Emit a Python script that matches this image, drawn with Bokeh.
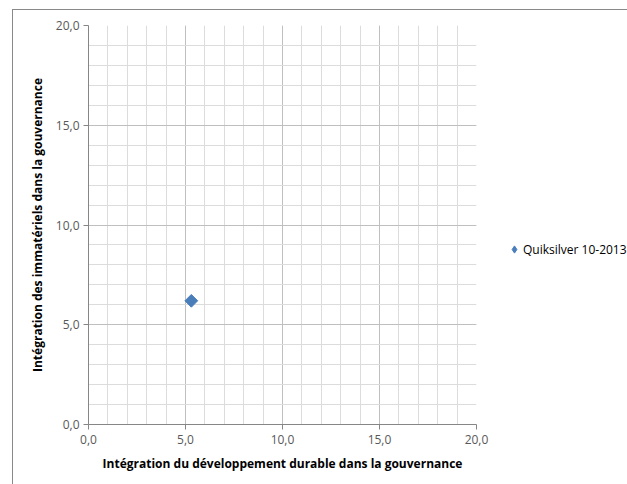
import math
from bokeh.plotting import figure
from bokeh.models import (Range1d, SingleIntervalTicker, CustomJSTickFormatter,
                          Legend, LegendItem)
from bokeh.embed import file_html
from bokeh.resources import INLINE

# data
series_name = "Quiksilver 10-2013"
x_vals = [5.3]
y_vals = [6.2]
x_title = "Intégration du développement durable dans la gouvernance"
y_title = "Intégration des immatériels dans la gouvernance"

p = figure(frame_width=388, frame_height=399, output_backend="svg", toolbar_location=None,
           x_range=Range1d(0, 20), y_range=Range1d(0, 20),
           min_border_left=75, min_border_right=200, min_border_top=15, min_border_bottom=80,
           margin=(9, 0, 0, 12))
p.styles = {"border-left": "1px solid #898989", "border-top": "1px solid #898989"}
p.outline_line_color = None
p.background_fill_color = "white"
p.border_fill_color = "white"

fmt = CustomJSTickFormatter(code="return tick.toFixed(1).replace('.', ',');")
for ax in (p.xaxis[0], p.yaxis[0]):
    ax.ticker = SingleIntervalTicker(interval=5, num_minor_ticks=5)
    ax.formatter = fmt
    ax.axis_line_color = "#868686"
    ax.major_tick_line_color = "#868686"
    ax.major_tick_out = 5
    ax.major_tick_in = 0
    ax.minor_tick_line_color = None
    ax.major_label_text_font = "Open Sans"
    ax.major_label_text_font_size = "12px"
    ax.major_label_text_color = "#595959"
    ax.axis_label_text_font = "Open Sans"
    ax.axis_label_text_font_size = "12px"
    ax.axis_label_text_font_style = "bold"
    ax.axis_label_text_color = "#000000"

p.xaxis[0].axis_label = x_title
p.yaxis[0].axis_label = y_title
p.xaxis[0].major_label_standoff = 5
p.yaxis[0].major_label_standoff = 4
p.xaxis[0].axis_label_standoff = 8
p.yaxis[0].axis_label_standoff = 7

for g in (p.xgrid[0], p.ygrid[0]):
    g.grid_line_color = "#bfbfbf"
    g.minor_grid_line_color = "#dcdcdc"

# diamond used for the legend swatch (hidden under the main marker)
r_leg = p.scatter(x_vals, y_vals, marker="diamond", size=9,
                  fill_color="#4a7ebb", line_color="#4a7ebb")
r = p.scatter(x_vals, y_vals, marker="square", angle=math.pi / 4, size=9,
              fill_color="#4a7ebb", line_color="#4a7ebb")

legend = Legend(items=[LegendItem(label=series_name, renderers=[r_leg])],
                location=(29, 166), border_line_color=None, background_fill_alpha=0,
                label_text_font="Open Sans", label_text_font_size="12px",
                label_text_color="#000000", glyph_width=18, glyph_height=18,
                label_standoff=0, padding=0, margin=0)
p.add_layout(legend, "right")

open("out.html", "w").write(file_html(p, INLINE))
